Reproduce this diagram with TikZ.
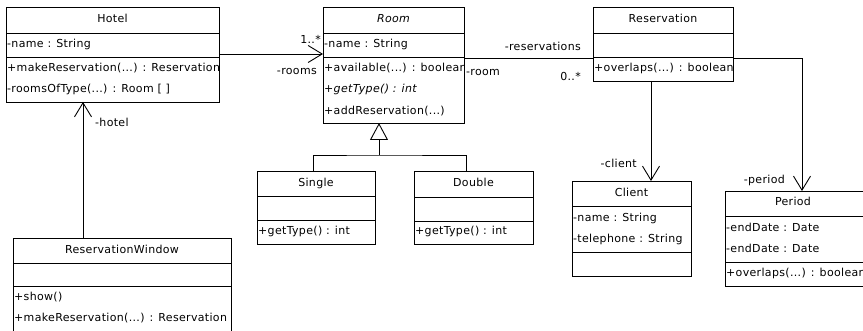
\documentclass[tikz,border=0pt]{standalone}
\usepackage{fontspec}
\setmainfont{DejaVu Sans}[LetterSpace=3]
\usetikzlibrary{arrows.meta}
\newcommand\umlfont{\fontsize{11}{13}\selectfont}

\begin{document}
\begin{tikzpicture}[x=1pt,y=-1pt,
  box/.style={draw, line width=0.9pt, inner sep=0pt, outer sep=0pt, anchor=north west},
  rule/.style={line width=0.9pt},
  member/.style={anchor=mid west, inner sep=0pt, font=\umlfont},
  title/.style={anchor=mid, inner sep=0pt, font=\umlfont},
  lbl/.style={inner sep=0pt, font=\umlfont},
  link/.style={line width=0.9pt},
  nav/.style={line width=0.9pt, -{Straight Barb[length=14pt,width=17pt]}},
  inherit/.style={line width=0.9pt, -{Triangle[open,length=17pt,width=18pt,fill=white]}}]
\useasboundingbox (0,0) rectangle (863,331);

% ---------- Hotel ----------
\node[box, minimum width=213pt, minimum height=95pt] (hotel) at (6,7) {};
\draw[rule] (6,33) -- (219,33);
\draw[rule] (6,57) -- (219,57);
\begin{scope}
  \clip (hotel.north west) rectangle (hotel.south east);
  \node[title] (hotel-t) at (112.5,20) {Hotel};
  \node[member] (hotel-a1) at (7,45) {-name : String};
  \node[member] (hotel-o1) at (7,69) {+makeReservation(...) : Reservation};
  \node[member] (hotel-o2) at (7,90) {-roomsOfType(...) : Room [ ]};
\end{scope}

% ---------- Room ----------
\node[box, minimum width=141pt, minimum height=116pt] (room) at (323,7) {};
\draw[rule] (323,33) -- (464,33);
\draw[rule] (323,57) -- (464,57);
\begin{scope}
  \clip (room.north west) rectangle (room.south east);
  \node[title] (room-t) at (393.5,20) {\itshape Room};
  \node[member] (room-a1) at (324,45) {-name : String};
  \node[member] (room-o1) at (324,69) {+available(...) : boolean};
  \node[member] (room-o2) at (324,90) {\itshape +getType() : int};
  \node[member] (room-o3) at (324,112) {+addReservation(...)};
\end{scope}

% ---------- Reservation ----------
\node[box, minimum width=140pt, minimum height=74pt] (resv) at (593,7) {};
\draw[rule] (593,33) -- (733,33);
\draw[rule] (593,57) -- (733,57);
\begin{scope}
  \clip (resv.north west) rectangle (resv.south east);
  \node[title] (resv-t) at (663,20) {Reservation};
  \node[member] (resv-o1) at (594,69) {+overlaps(...) : boolean};
\end{scope}

% ---------- Single ----------
\node[box, minimum width=118pt, minimum height=73pt] (single) at (257,171) {};
\draw[rule] (257,196) -- (375,196);
\draw[rule] (257,220) -- (375,220);
\begin{scope}
  \clip (single.north west) rectangle (single.south east);
  \node[title] (single-t) at (316,184) {Single};
  \node[member] (single-o1) at (258,232) {+getType() : int};
\end{scope}

% ---------- Double ----------
\node[box, minimum width=119pt, minimum height=73pt] (double) at (414,171) {};
\draw[rule] (414,197) -- (533,197);
\draw[rule] (414,221) -- (533,221);
\begin{scope}
  \clip (double.north west) rectangle (double.south east);
  \node[title] (double-t) at (473.5,184) {Double};
  \node[member] (double-o1) at (415,232) {+getType() : int};
\end{scope}

% ---------- Client ----------
\node[box, minimum width=119pt, minimum height=95pt] (client) at (572,181) {};
\draw[rule] (572,206) -- (691,206);
\draw[rule] (572,252) -- (691,252);
\begin{scope}
  \clip (client.north west) rectangle (client.south east);
  \node[title] (client-t) at (631.5,194) {Client};
  \node[member] (client-a1) at (573,219) {-name : String};
  \node[member] (client-a2) at (573,240) {-telephone : String};
\end{scope}

% ---------- Period ----------
\node[box, minimum width=139pt, minimum height=95pt] (period) at (725,191) {};
\draw[rule] (725,216) -- (864,216);
\draw[rule] (725,262) -- (864,262);
\begin{scope}
  \clip (period.north west) rectangle (period.south east);
  \node[title] (period-t) at (793,203) {Period};
  \node[member] (period-a1) at (726,229) {-endDate : Date};
  \node[member] (period-a2) at (726,250) {-endDate : Date};
  \node[member] (period-o1) at (726,274) {+overlaps(...) : boolean};
\end{scope}

% ---------- ReservationWindow ----------
\node[box, minimum width=218pt, minimum height=110pt] (rw) at (13,238) {};
\draw[rule] (13,263) -- (231,263);
\draw[rule] (13,286) -- (231,286);
\begin{scope}
  \clip (rw.north west) rectangle (rw.south east);
  \node[title] (rw-t) at (122,251) {ReservationWindow};
  \node[member] (rw-o1) at (14,298) {+show()};
  \node[member] (rw-o2) at (14,319) {+makeReservation(...) : Reservation};
\end{scope}

% ---------- associations ----------
\draw[nav] (hotel.east |- 0,54) -- (room.west |- 0,54);
\node[lbl, anchor=mid east] (hotel-room-m) at (321,41) {1..*};
\node[lbl, anchor=mid east] (hotel-room-r) at (317,72) {-rooms};

\draw[link] (room.east |- 0,58) -- (resv.west |- 0,58);
\node[lbl, anchor=mid east] (room-resv-r) at (581,48) {-reservations};
\node[lbl, anchor=mid east] (room-resv-m) at (581,78) {0..*};
\node[lbl, anchor=mid west] (resv-room-r) at (466,73) {-room};

\draw[nav] (resv.east |- 0,58) -| (period.north -| 802,0);
\node[lbl, anchor=mid east] (resv-period-r) at (785,181) {-period};

\draw[nav] (resv.south -| 651,0) -- (client.north -| 651,0);
\node[lbl, anchor=mid east] (resv-client-r) at (637,165) {-client};

\draw[nav] (rw.north -| 83,0) -- (hotel.south -| 83,0);
\node[lbl, anchor=mid west] (rw-hotel-r) at (95,124) {-hotel};

% ---------- generalization ----------
\coordinate (gen-join) at (379,155);
\draw[inherit] (gen-join) -- (room.south -| 379,0);
\draw[link] (single.north -| 313,0) |- (gen-join) -| (double.north -| 466,0);
\end{tikzpicture}
\end{document}
